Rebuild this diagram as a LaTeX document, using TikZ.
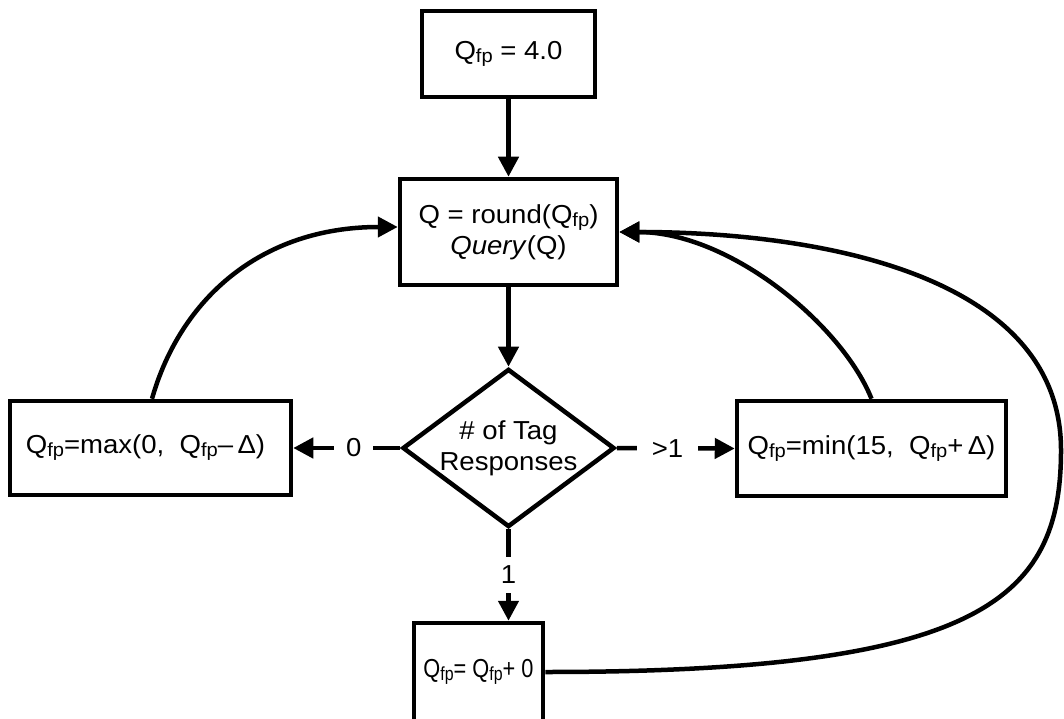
\documentclass[tikz,border=0pt]{standalone}
\usepackage{fontspec}
\setmainfont{Liberation Sans}[FakeStretch=1.06]
\usetikzlibrary{arrows.meta,shapes.geometric}
\newcommand\fpsub{\raisebox{-3pt}{\fontsize{19}{19}\selectfont fp}}
\newcommand\Qfp{Q\fpsub}
\begin{document}
\begin{tikzpicture}[x=1pt,y=-1pt,
  font=\fontsize{26}{31}\selectfont, line width=4.5pt,
  box/.style={draw, rectangle, inner sep=0pt, align=center},
  arr/.style={-{Triangle[length=20pt,width=20pt]}},
  lbl/.style={fill=white, inner sep=11pt}]
\useasboundingbox (0,0) rectangle (1064,719);
\node[box, minimum width=173pt, minimum height=86pt] (init) at (508.5,54) {\Qfp\ = 4.0};
\node[box, minimum width=217pt, minimum height=106pt] (main) at (508.5,232) {Q = round(\Qfp)\\\textit{Query}(Q)};
\node[draw, diamond, shape aspect=1.34, minimum width=212pt, minimum height=158pt, inner sep=0pt, align=center] (dia) at (508.5,448) {\# of Tag\\Responses};
\node[box, minimum width=281pt, minimum height=94pt] (dec) at (150.5,448) {\Qfp=max(0,\ \ \Qfp–\,Δ)\hspace*{10pt}};
\node[box, minimum width=269pt, minimum height=95pt] (inc) at (871.5,448.5) {\Qfp=min(15,\ \ \Qfp+\,Δ)};
\node[box, minimum width=129pt, minimum height=98pt] (same) at (478.5,672) {\scalebox{0.79}[1]{\Qfp= \Qfp+ 0}};
\draw[arr] (init) -- (main);
\draw[arr] (main) -- (dia);
\draw[arr] (dia.west) -- node[lbl, pos=0.435, inner xsep=12pt]{0} (dec.east);
\draw[arr] (dia.east) -- node[lbl, pos=0.43, inner xsep=15pt]{>1} (inc.west);
\draw[arr] (dia.south) -- node[lbl, pos=0.5, inner ysep=9pt]{1} (dia.south |- same.north);
\draw[arr] ([xshift=1.5pt]dec.north) .. controls (180,300) and (260,227) .. ([yshift=5pt]main.west);
\draw[arr] (inc.north) .. controls (842,325) and (730,232) .. (main.east);
\coordinate (loop) at (1061,450);
\draw[arr] (same.east) .. controls (980,672) and (1061,600) .. (loop) .. controls (1061,275) and (820,232) .. (main.east);
\end{tikzpicture}
\end{document}
